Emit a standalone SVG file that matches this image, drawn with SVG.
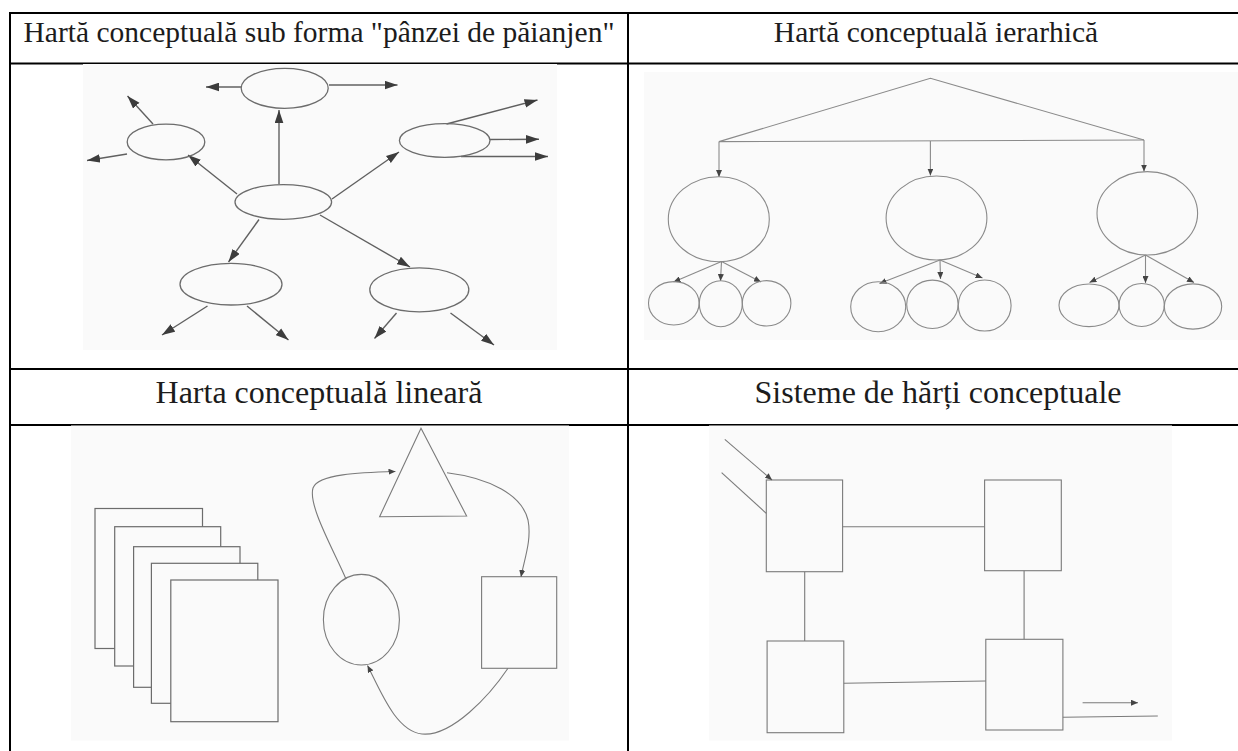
<svg xmlns="http://www.w3.org/2000/svg" width="1238" height="751" viewBox="0 0 1238 751">
<style>
.bg{fill:#ffffff}
.img{fill:#fafafa}
.tbl{stroke:#000;stroke-width:2;fill:none}
.hdr{font-family:"Liberation Serif","Times New Roman",serif;fill:#1c1c1c;text-anchor:middle}
.nd{fill:none;stroke:#6c6c6c;stroke-width:1.3}
.ndw{fill:#fafafa;stroke:#6c6c6c;stroke-width:1.2}
.sp{stroke:#606060;stroke-width:1.4;fill:none;marker-end:url(#big)}
.hi{stroke:#8a8a8a;stroke-width:1.1;fill:none}
.hia{stroke:#8a8a8a;stroke-width:1.1;fill:none;marker-end:url(#sm)}
.ln{stroke:#7a7a7a;stroke-width:1.1;fill:none}
.lna{stroke:#7a7a7a;stroke-width:1.1;fill:none;marker-end:url(#sm)}
</style>
<defs>
<marker id="big" viewBox="0 0 12 8" refX="12" refY="4" markerWidth="13" markerHeight="9" markerUnits="userSpaceOnUse" orient="auto">
<path d="M0,0 L12,4 L0,8 z" fill="#3c3c3c"/>
</marker>
<marker id="sm" viewBox="0 0 7 6" refX="7" refY="3" markerWidth="7" markerHeight="6" markerUnits="userSpaceOnUse" orient="auto">
<path d="M0,0 L7,3 L0,6 z" fill="#444"/>
</marker>
</defs>
<rect class="bg" x="0" y="0" width="1238" height="751"/>

<!-- table -->
<g id="table">
<line class="tbl" x1="10" y1="13" x2="1238" y2="13"/>
<line class="tbl" x1="10" y1="12" x2="10" y2="751"/>
<line class="tbl" x1="628" y1="12" x2="628" y2="751"/>
<line class="tbl" x1="10" y1="63.5" x2="1238" y2="63.5"/>
<line class="tbl" x1="10" y1="369" x2="1238" y2="369"/>
<line class="tbl" x1="10" y1="425" x2="1238" y2="425"/>
</g>

<!-- headers -->
<g id="headers">
<text class="hdr" x="319" y="42" font-size="29.5">Hartă conceptuală sub forma "pânzei de păianjen"</text>
<text class="hdr" x="936" y="42" font-size="29.5">Hartă conceptuală ierarhică</text>
<text class="hdr" x="319" y="403" font-size="32">Harta conceptuală lineară</text>
<text class="hdr" x="938" y="403" font-size="32">Sisteme de hărți conceptuale</text>
</g>

<!-- image backgrounds -->
<rect class="img" x="83" y="64" width="474" height="286"/>
<rect class="img" x="644" y="72" width="594" height="268"/>
<rect class="img" x="71" y="425.5" width="498" height="315"/>
<rect class="img" x="709" y="425.5" width="463" height="315"/>

<!-- ===== Spider map ===== -->
<g id="spider-connectors">
<line class="sp" x1="279" y1="184" x2="279" y2="110"/>
<line class="sp" x1="237" y1="194" x2="188" y2="155"/>
<line class="sp" x1="332" y1="199" x2="399" y2="152"/>
<line class="sp" x1="259" y1="219.5" x2="228.5" y2="262"/>
<line class="sp" x1="320" y1="215" x2="410" y2="267"/>
<line class="sp" x1="241" y1="87" x2="206" y2="87"/>
<line class="sp" x1="329" y1="85" x2="397.5" y2="85"/>
<line class="sp" x1="153" y1="124" x2="127.5" y2="96"/>
<line class="sp" x1="127" y1="154" x2="87" y2="160.5"/>
<line class="sp" x1="446.5" y1="124" x2="537.5" y2="100"/>
<line class="sp" x1="490" y1="139.5" x2="539" y2="139.3"/>
<line class="sp" x1="461" y1="156.5" x2="548" y2="156.5"/>
<line class="sp" x1="207.5" y1="306" x2="162" y2="335"/>
<line class="sp" x1="247" y1="306" x2="288.5" y2="340"/>
<line class="sp" x1="396.5" y1="313" x2="374.5" y2="338.5"/>
<line class="sp" x1="450.5" y1="313" x2="494" y2="345"/>
</g>
<g id="spider-top"><ellipse class="nd" cx="284.7" cy="88.3" rx="43.5" ry="20"/></g>
<g id="spider-left"><ellipse class="nd" cx="166" cy="142" rx="38.8" ry="17.8"/></g>
<g id="spider-center"><ellipse class="nd" cx="283.3" cy="202" rx="48.3" ry="17.3"/></g>
<g id="spider-right"><ellipse class="nd" cx="444.7" cy="140.5" rx="45.3" ry="16.8"/></g>
<g id="spider-bottom-left"><ellipse class="nd" cx="231" cy="284.2" rx="51" ry="20.8"/></g>
<g id="spider-bottom-right"><ellipse class="nd" cx="419.3" cy="289.8" rx="49.5" ry="22"/></g>

<!-- ===== Hierarchical map ===== -->
<g id="hier-connectors">
<polyline class="hi" points="719,141.6 930.4,78.3 1144,140"/>
<line class="hi" x1="719" y1="141.6" x2="1144" y2="140"/>
<line class="hia" x1="719" y1="141.6" x2="719" y2="177"/>
<line class="hia" x1="930.4" y1="141" x2="930.4" y2="175.5"/>
<line class="hia" x1="1144" y1="140" x2="1144" y2="171.5"/>
<line class="hia" x1="721.5" y1="261.5" x2="673.5" y2="282"/>
<line class="hia" x1="721.5" y1="261.5" x2="720.5" y2="281"/>
<line class="hia" x1="721.5" y1="261.5" x2="761" y2="282"/>
<line class="hia" x1="940" y1="260" x2="879.5" y2="283.5"/>
<line class="hia" x1="940" y1="260" x2="940.5" y2="279"/>
<line class="hia" x1="940" y1="260" x2="982.5" y2="278"/>
<line class="hia" x1="1145.5" y1="255" x2="1089.5" y2="282.5"/>
<line class="hia" x1="1145.5" y1="255" x2="1145.5" y2="283"/>
<line class="hia" x1="1145.5" y1="255" x2="1194" y2="282.5"/>
</g>
<g id="hier-big-left"><ellipse class="hi" cx="718.8" cy="219.2" rx="50.5" ry="42.5"/></g>
<g id="hier-big-mid"><ellipse class="hi" cx="936.5" cy="218" rx="50.4" ry="42"/></g>
<g id="hier-big-right"><ellipse class="hi" cx="1147.3" cy="213.3" rx="50.3" ry="41.7"/></g>
<g id="hier-l1"><ellipse class="hi" cx="673.8" cy="303.3" rx="25.3" ry="21.7"/></g>
<g id="hier-l2"><ellipse class="hi" cx="720.8" cy="303.7" rx="21.5" ry="23"/></g>
<g id="hier-l3"><ellipse class="hi" cx="766.6" cy="303.3" rx="24.3" ry="22.7"/></g>
<g id="hier-m1"><ellipse class="hi" cx="878.2" cy="306.7" rx="27.5" ry="25"/></g>
<g id="hier-m2"><ellipse class="hi" cx="932.4" cy="304.3" rx="25.7" ry="24.2"/></g>
<g id="hier-m3"><ellipse class="hi" cx="984.7" cy="305.5" rx="26.4" ry="25.5"/></g>
<g id="hier-r1"><ellipse class="hi" cx="1089" cy="305.3" rx="30" ry="21.3"/></g>
<g id="hier-r2"><ellipse class="hi" cx="1141.7" cy="305" rx="22.6" ry="21.5"/></g>
<g id="hier-r3"><ellipse class="hi" cx="1193" cy="306.5" rx="28.7" ry="22.6"/></g>

<!-- ===== Linear map ===== -->
<g id="lin-pages">
<rect class="ndw" x="95" y="508.5" width="107.5" height="140"/>
<rect class="ndw" x="114.7" y="526.7" width="106" height="139.3"/>
<rect class="ndw" x="133.6" y="546.7" width="106.4" height="140.6"/>
<rect class="ndw" x="151.4" y="563.3" width="106.4" height="140"/>
<rect class="ndw" x="170.8" y="580" width="107.2" height="141.7"/>
</g>
<g id="lin-triangle"><polygon class="ln" points="421,428.3 379.6,516.7 466.6,516"/></g>
<g id="lin-ellipse"><ellipse class="ln" cx="361.4" cy="619.7" rx="38" ry="45.3"/></g>
<g id="lin-rect"><rect class="ln" x="481.6" y="576.7" width="75.1" height="91.6"/></g>
<g id="lin-connectors">
<path class="lna" d="M346,579 C332,547 308,505 313,488 C318,474 360,472.5 395.5,471.5"/>
<path class="lna" d="M447,472.7 C490,478 522,495 528,520 C532,540 524,560 521,577"/>
<path class="lna" d="M508,668.3 C490,695 452,737 422,734 C396,731 381,692 367.5,665.5"/>
</g>

<!-- ===== System of maps ===== -->
<g id="sys-tl"><rect class="ln" x="766.3" y="480" width="76.3" height="91.7"/></g>
<g id="sys-tr"><rect class="ln" x="984.6" y="480" width="76.7" height="90.7"/></g>
<g id="sys-bl"><rect class="ln" x="767.1" y="641" width="76.7" height="91.7"/></g>
<g id="sys-br"><rect class="ln" x="985.8" y="639.3" width="77.1" height="90.7"/></g>
<g id="sys-connectors">
<line class="ln" x1="842.6" y1="526.7" x2="984.6" y2="526.7"/>
<line class="ln" x1="804.7" y1="571.7" x2="804.7" y2="641"/>
<line class="ln" x1="1024.1" y1="570.7" x2="1024.1" y2="639.3"/>
<line class="ln" x1="843.8" y1="683.3" x2="985.8" y2="681"/>
<line class="lna" x1="724.8" y1="439.3" x2="772" y2="480"/>
<line class="ln" x1="721.6" y1="472.7" x2="766.3" y2="513.3"/>
<line class="lna" x1="1082.6" y1="702.7" x2="1138" y2="702.7"/>
<line class="ln" x1="1062.9" y1="717.3" x2="1157.8" y2="716"/>
</g>
</svg>
